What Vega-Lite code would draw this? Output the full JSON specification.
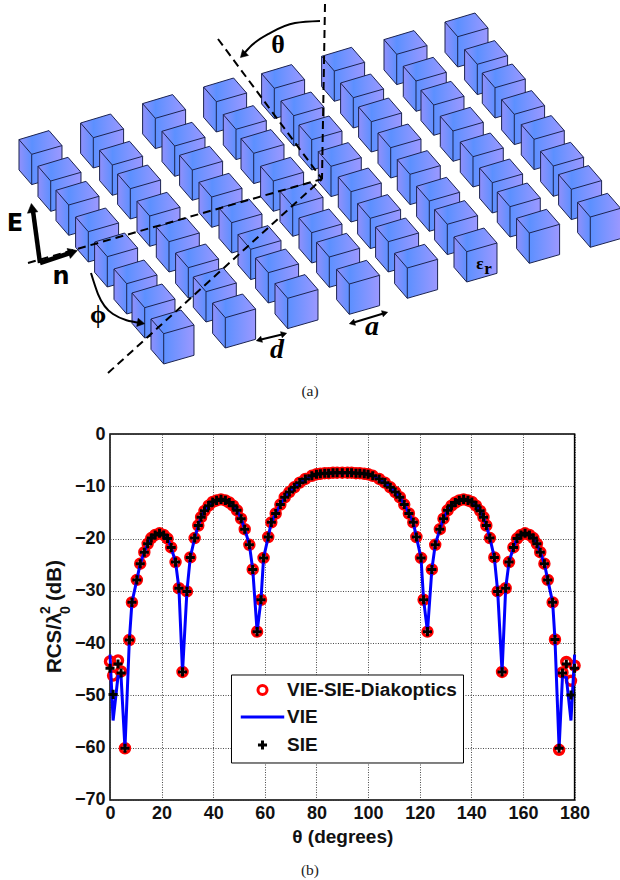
{"$schema":"https://vega.github.io/schema/vega-lite/v6.json","background":"white","padding":0,"spacing":0,"bounds":"flush","config":{"font":"Liberation Sans"},
"datasets":{
"corners":[{"x":0.5,"y":0.5},{"x":619.5,"y":879.5}],
"cubes":[{"x":31.7,"y":153.3},{"x":50.7,"y":180},{"x":68.7,"y":204},{"x":88.3,"y":230.7},{"x":107.3,"y":255.7},{"x":126.7,"y":282.7},{"x":144.7,"y":306.7},{"x":163.7,"y":332.7},
{"x":93.3,"y":136.7},{"x":112.3,"y":164},{"x":130.3,"y":187.7},{"x":149.7,"y":215},{"x":169,"y":240.7},{"x":188.3,"y":266.7},{"x":206,"y":290.7},{"x":225.3,"y":316.7},
{"x":155.3,"y":117.3},{"x":174.7,"y":145},{"x":192.3,"y":169},{"x":211.7,"y":196},{"x":231.7,"y":221.7},{"x":250.7,"y":248.3},{"x":268.3,"y":271.7},{"x":287.7,"y":297.3},
{"x":216.3,"y":100.7},{"x":236,"y":128.3},{"x":253.7,"y":152.3},{"x":273.3,"y":180},{"x":292.7,"y":205},{"x":311.7,"y":231.7},{"x":329.3,"y":256},{"x":349.3,"y":283},
{"x":274.3,"y":87.3},{"x":293.7,"y":114.7},{"x":311.7,"y":138.7},{"x":331,"y":165.3},{"x":351,"y":190.7},{"x":370.3,"y":217.3},{"x":388.3,"y":240.7},{"x":407.3,"y":267},
{"x":334.3,"y":70},{"x":353.3,"y":96.7},{"x":371.3,"y":120.7},{"x":390.7,"y":146.7},{"x":410,"y":173.3},{"x":429.3,"y":200},{"x":447.3,"y":223.3},{"x":466.7,"y":250.7},
{"x":396.7,"y":53.3},{"x":416,"y":80},{"x":433.7,"y":104},{"x":453,"y":130},{"x":473,"y":155.7},{"x":492.3,"y":181.7},{"x":510,"y":205.7},{"x":529.3,"y":232},
{"x":457.7,"y":35.7},{"x":477.3,"y":63.3},{"x":495,"y":86.7},{"x":514.3,"y":113.3},{"x":534,"y":138.3},{"x":553.3,"y":165},{"x":571.3,"y":188.3},{"x":590.3,"y":216}],
"dashes":[{"id":"a","i":0,"x":28,"y":262},{"id":"a","i":1,"x":322,"y":178},{"id":"b","i":0,"x":108,"y":372},{"id":"b","i":1,"x":322,"y":178},{"id":"c","i":0,"x":218,"y":38},{"id":"c","i":1,"x":322,"y":178},{"id":"d","i":0,"x":325,"y":3},{"id":"d","i":1,"x":322,"y":178}],
"arcs":[{"id":"t","i":0,"x":320,"y":20},{"id":"t","i":1,"x":295,"y":22},{"id":"t","i":2,"x":270,"y":32},{"id":"t","i":3,"x":252,"y":44},{"id":"t","i":4,"x":242,"y":55},{"id":"p","i":0,"x":91,"y":272},{"id":"p","i":1,"x":98,"y":293},{"id":"p","i":2,"x":113,"y":313},{"id":"p","i":3,"x":140,"y":322},{"id":"dd","i":0,"x":259,"y":339},{"id":"dd","i":1,"x":284,"y":333},{"id":"aa","i":0,"x":352,"y":322},{"id":"aa","i":1,"x":385,"y":312}],
"thick":[{"id":"E","i":0,"x":40,"y":262},{"id":"E","i":1,"x":33,"y":210},{"id":"n","i":0,"x":40,"y":262},{"id":"n","i":1,"x":70,"y":252}],
"heads":[{"x":32,"y":207,"a":-8,"s":110},{"x":73,"y":251,"a":72,"s":110},{"x":243,"y":54,"a":225,"s":70},{"x":141,"y":322,"a":100,"s":70},{"x":259,"y":339,"a":255,"s":40},{"x":284,"y":333,"a":75,"s":40},{"x":352,"y":322,"a":255,"s":40},{"x":385,"y":312,"a":75,"s":40}],
"thetaLetters":[{"x":278,"y":44,"t":"θ"},{"x":98,"y":314,"t":"ϕ"}],
"italics":[{"x":277,"y":349,"t":"d"},{"x":372,"y":326,"t":"a"}],
"sans":[{"x":15,"y":223,"t":"E"},{"x":61,"y":276,"t":"n"}],
"captions":[{"x":310,"y":390,"t":"(a)"},{"x":310,"y":869,"t":"(b)"}],
"eps":[{"x":480,"y":263,"t":"ε"},{"x":488,"y":268,"t":"r"}],
"ytitle":[{"x":61,"y":672,"t":"RCS/λ"},{"x":61,"y":600,"t":"(dB)"}],
"ytitleSmall":[{"x":70,"y":613,"t":"0"},{"x":50,"y":613,"t":"2"}],
"rcs":[
{"theta":0,"diakoptics":-43.5,"vie":-42.2,"sie":-44.8},{"theta":1.2,"diakoptics":-46.2,"vie":-54.8,"sie":-49.8},{"theta":3.1,"diakoptics":-43.3,"vie":-46.4,"sie":-44},{"theta":4.3,"diakoptics":-45.4,"vie":-46.5,"sie":-45.7},{"theta":5.8,"diakoptics":-60.1,"vie":-60.1,"sie":-60.1},
{"theta":7.5,"diakoptics":-39.4,"vie":-39.4,"sie":-39.4},{"theta":8.5,"diakoptics":-32.2,"vie":-32.2,"sie":-32.2},{"theta":10.4,"diakoptics":-27.9,"vie":-27.9,"sie":-27.9},{"theta":11.7,"diakoptics":-24.8,"vie":-24.8,"sie":-24.8},{"theta":13.3,"diakoptics":-22.6,"vie":-22.6,"sie":-22.6},{"theta":14.6,"diakoptics":-21,"vie":-21,"sie":-21},{"theta":16,"diakoptics":-19.9,"vie":-19.9,"sie":-19.9},{"theta":17.5,"diakoptics":-19.3,"vie":-19.3,"sie":-19.3},{"theta":19.2,"diakoptics":-19,"vie":-19,"sie":-19},{"theta":20.8,"diakoptics":-19.3,"vie":-19.3,"sie":-19.3},{"theta":22.3,"diakoptics":-20,"vie":-20,"sie":-20},{"theta":23.7,"diakoptics":-21.7,"vie":-21.7,"sie":-21.7},{"theta":25.4,"diakoptics":-24.5,"vie":-24.5,"sie":-24.5},{"theta":26.7,"diakoptics":-29.5,"vie":-29.5,"sie":-29.5},{"theta":28.1,"diakoptics":-45.5,"vie":-45.5,"sie":-45.5},{"theta":29.8,"diakoptics":-30.1,"vie":-30.1,"sie":-30.1},{"theta":31.1,"diakoptics":-23.6,"vie":-23.6,"sie":-23.6},{"theta":32.8,"diakoptics":-19.9,"vie":-19.9,"sie":-19.9},{"theta":34.2,"diakoptics":-17.5,"vie":-17.5,"sie":-17.5},{"theta":35.3,"diakoptics":-15.9,"vie":-15.9,"sie":-15.9},{"theta":36.6,"diakoptics":-14.7,"vie":-14.7,"sie":-14.7},{"theta":38.2,"diakoptics":-13.7,"vie":-13.7,"sie":-13.7},{"theta":39.8,"diakoptics":-13,"vie":-13,"sie":-13},{"theta":41.3,"diakoptics":-12.7,"vie":-12.7,"sie":-12.7},{"theta":43,"diakoptics":-12.5,"vie":-12.5,"sie":-12.5},{"theta":44.7,"diakoptics":-12.7,"vie":-12.7,"sie":-12.7},{"theta":46.2,"diakoptics":-13.1,"vie":-13.1,"sie":-13.1},{"theta":47.7,"diakoptics":-13.7,"vie":-13.7,"sie":-13.7},{"theta":49.2,"diakoptics":-14.6,"vie":-14.6,"sie":-14.6},{"theta":50.8,"diakoptics":-16.2,"vie":-16.2,"sie":-16.2},{"theta":52.2,"diakoptics":-18.2,"vie":-18.2,"sie":-18.2},{"theta":54,"diakoptics":-21.2,"vie":-21.2,"sie":-21.2},{"theta":55.3,"diakoptics":-25.9,"vie":-25.9,"sie":-25.9},{"theta":57,"diakoptics":-37.8,"vie":-37.8,"sie":-37.8},{"theta":58.5,"diakoptics":-31.7,"vie":-31.7,"sie":-31.7},{"theta":59.5,"diakoptics":-23.7,"vie":-23.7,"sie":-23.7},{"theta":61.3,"diakoptics":-19.7,"vie":-19.7,"sie":-19.7},{"theta":62.5,"diakoptics":-16.9,"vie":-16.9,"sie":-16.9},{"theta":64.2,"diakoptics":-15.2,"vie":-15.2,"sie":-15.2},{"theta":66,"diakoptics":-13.5,"vie":-13.5,"sie":-13.5},{"theta":67.7,"diakoptics":-12.1,"vie":-12.1,"sie":-12.1},{"theta":69.5,"diakoptics":-11.1,"vie":-11.1,"sie":-11.1},{"theta":71.4,"diakoptics":-10.2,"vie":-10.2,"sie":-10.2},{"theta":73.5,"diakoptics":-9.3,"vie":-9.3,"sie":-9.3},{"theta":75.7,"diakoptics":-8.6,"vie":-8.6,"sie":-8.6},{"theta":78.2,"diakoptics":-8,"vie":-8,"sie":-8},{"theta":80,"diakoptics":-7.7,"vie":-7.7,"sie":-7.7},{"theta":81.5,"diakoptics":-7.6,"vie":-7.6,"sie":-7.6},{"theta":83.2,"diakoptics":-7.5,"vie":-7.5,"sie":-7.5},{"theta":84.7,"diakoptics":-7.5,"vie":-7.5,"sie":-7.5},{"theta":86.4,"diakoptics":-7.4,"vie":-7.4,"sie":-7.4},{"theta":88,"diakoptics":-7.4,"vie":-7.4,"sie":-7.4},{"theta":90,"diakoptics":-7.4,"vie":-7.4,"sie":-7.4},
{"theta":92,"diakoptics":-7.4,"vie":-7.4,"sie":-7.4},{"theta":93.6,"diakoptics":-7.4,"vie":-7.4,"sie":-7.4},{"theta":95.3,"diakoptics":-7.5,"vie":-7.5,"sie":-7.5},{"theta":96.8,"diakoptics":-7.5,"vie":-7.5,"sie":-7.5},{"theta":98.5,"diakoptics":-7.6,"vie":-7.6,"sie":-7.6},{"theta":100,"diakoptics":-7.7,"vie":-7.7,"sie":-7.7},{"theta":101.8,"diakoptics":-8,"vie":-8,"sie":-8},{"theta":104.3,"diakoptics":-8.6,"vie":-8.6,"sie":-8.6},{"theta":106.5,"diakoptics":-9.3,"vie":-9.3,"sie":-9.3},{"theta":108.6,"diakoptics":-10.2,"vie":-10.2,"sie":-10.2},{"theta":110.5,"diakoptics":-11.1,"vie":-11.1,"sie":-11.1},{"theta":112.3,"diakoptics":-12.1,"vie":-12.1,"sie":-12.1},{"theta":114,"diakoptics":-13.5,"vie":-13.5,"sie":-13.5},{"theta":115.8,"diakoptics":-15.2,"vie":-15.2,"sie":-15.2},{"theta":117.5,"diakoptics":-16.9,"vie":-16.9,"sie":-16.9},{"theta":118.7,"diakoptics":-19.7,"vie":-19.7,"sie":-19.7},{"theta":120.5,"diakoptics":-23.7,"vie":-23.7,"sie":-23.7},{"theta":121.5,"diakoptics":-31.7,"vie":-31.7,"sie":-31.7},{"theta":123,"diakoptics":-37.8,"vie":-37.8,"sie":-37.8},{"theta":124.7,"diakoptics":-25.9,"vie":-25.9,"sie":-25.9},{"theta":126,"diakoptics":-21.2,"vie":-21.2,"sie":-21.2},{"theta":127.8,"diakoptics":-18.2,"vie":-18.2,"sie":-18.2},{"theta":129.2,"diakoptics":-16.2,"vie":-16.2,"sie":-16.2},{"theta":130.8,"diakoptics":-14.6,"vie":-14.6,"sie":-14.6},{"theta":132.3,"diakoptics":-13.7,"vie":-13.7,"sie":-13.7},{"theta":133.8,"diakoptics":-13.1,"vie":-13.1,"sie":-13.1},{"theta":135.3,"diakoptics":-12.7,"vie":-12.7,"sie":-12.7},{"theta":137,"diakoptics":-12.5,"vie":-12.5,"sie":-12.5},{"theta":138.7,"diakoptics":-12.7,"vie":-12.7,"sie":-12.7},{"theta":140.2,"diakoptics":-13,"vie":-13,"sie":-13},{"theta":141.8,"diakoptics":-13.7,"vie":-13.7,"sie":-13.7},{"theta":143.4,"diakoptics":-14.7,"vie":-14.7,"sie":-14.7},{"theta":144.7,"diakoptics":-15.9,"vie":-15.9,"sie":-15.9},{"theta":145.8,"diakoptics":-17.5,"vie":-17.5,"sie":-17.5},{"theta":147.2,"diakoptics":-19.9,"vie":-19.9,"sie":-19.9},{"theta":148.9,"diakoptics":-23.6,"vie":-23.6,"sie":-23.6},{"theta":150.2,"diakoptics":-30.1,"vie":-30.1,"sie":-30.1},{"theta":151.9,"diakoptics":-45.5,"vie":-45.5,"sie":-45.5},{"theta":153.3,"diakoptics":-29.5,"vie":-29.5,"sie":-29.5},{"theta":154.6,"diakoptics":-24.5,"vie":-24.5,"sie":-24.5},{"theta":156.3,"diakoptics":-21.7,"vie":-21.7,"sie":-21.7},{"theta":157.7,"diakoptics":-20,"vie":-20,"sie":-20},{"theta":159.2,"diakoptics":-19.3,"vie":-19.3,"sie":-19.3},{"theta":160.8,"diakoptics":-19,"vie":-19,"sie":-19},{"theta":162.5,"diakoptics":-19.3,"vie":-19.3,"sie":-19.3},{"theta":164,"diakoptics":-19.9,"vie":-19.9,"sie":-19.9},{"theta":165.4,"diakoptics":-21,"vie":-21,"sie":-21},{"theta":166.7,"diakoptics":-22.6,"vie":-22.6,"sie":-22.6},{"theta":168.3,"diakoptics":-24.8,"vie":-24.8,"sie":-24.8},{"theta":169.6,"diakoptics":-27.9,"vie":-27.9,"sie":-27.9},{"theta":171.5,"diakoptics":-32.2,"vie":-32.2,"sie":-32.2},{"theta":172.4,"diakoptics":-39.3,"vie":-39.3,"sie":-39.3},{"theta":174,"diakoptics":-60.4,"vie":-60.1,"sie":-60.1},{"theta":175.3,"diakoptics":-45.6,"vie":-46.4,"sie":-45.7},{"theta":176.8,"diakoptics":-43.6,"vie":-46.6,"sie":-44},{"theta":178.6,"diakoptics":-47.2,"vie":-54.8,"sie":-49.9},{"theta":180,"diakoptics":-44.3,"vie":-42.2,"sie":-44.8}]
},
"vconcat":[
{"width":464.6,"height":432.5,"view":{"stroke":null},
"encoding":{"x":{"field":"x","type":"quantitative","axis":null,"scale":{"domain":[110,574.6],"nice":false,"zero":false}},"y":{"field":"y","type":"quantitative","axis":null,"scale":{"domain":[432.5,0],"nice":false,"zero":false}}},
"layer":[
{"data":{"name":"corners"},"mark":{"type":"point","size":1,"opacity":0,"fill":"white","stroke":null}},
{"data":{"name":"cubes"},"mark":{"type":"point","clip":false,"opacity":1,"size":4,"shape":"M-12.7 -14.7L17.3 -23.7L30.3 -8.7L30.3 21.6L0 30.3L-12.7 15.6ZM0 0L-12.7 -14.7M0 0L30.3 -8.7M0 0L0 30.3","stroke":"#1b2350","strokeWidth":1,"fill":{"gradient":"linear","x1":0,"y1":0,"x2":1,"y2":0,"stops":[{"offset":0,"color":"#9090fb"},{"offset":0.3,"color":"#5c90ff"},{"offset":1,"color":"#9c98ff"}]}}},
{"data":{"name":"dashes"},"mark":{"type":"line","stroke":"black","strokeWidth":2,"strokeDash":[8,5]},"encoding":{"detail":{"field":"id"},"order":{"field":"i"}}},
{"data":{"name":"arcs"},"mark":{"type":"line","stroke":"black","strokeWidth":2,"interpolate":"monotone"},"encoding":{"detail":{"field":"id"},"order":{"field":"i"}}},
{"data":{"name":"thick"},"mark":{"type":"line","stroke":"black","strokeWidth":4.5},"encoding":{"detail":{"field":"id"},"order":{"field":"i"}}},
{"data":{"name":"heads"},"mark":{"type":"point","shape":"triangle-up","filled":true,"fill":"black","stroke":"black","strokeWidth":0.5,"opacity":1},"encoding":{"angle":{"field":"a","type":"quantitative","scale":null},"size":{"field":"s","type":"quantitative","scale":null}}},
{"data":{"name":"sans"},"mark":{"type":"text","font":"DejaVu Sans","fontWeight":"bold","fontSize":24,"align":"center","baseline":"middle","fill":"black"},"encoding":{"text":{"field":"t"}}},
{"data":{"name":"thetaLetters"},"mark":{"type":"text","font":"Liberation Serif","fontWeight":"bold","fontSize":26,"align":"center","baseline":"middle","fill":"black"},"encoding":{"text":{"field":"t"}}},
{"data":{"name":"italics"},"mark":{"type":"text","font":"Liberation Serif","fontWeight":"bold","fontStyle":"italic","fontSize":28,"align":"center","baseline":"middle","fill":"black"},"encoding":{"text":{"field":"t"}}},
{"data":{"name":"eps"},"mark":{"type":"text","font":"Liberation Serif","fontWeight":"bold","fontSize":17,"align":"center","baseline":"middle","fill":"black"},"encoding":{"text":{"field":"t"}}},
{"data":{"name":"captions"},"mark":{"type":"text","font":"Liberation Serif","fontSize":15.5,"align":"center","baseline":"middle","fill":"#222222"},"encoding":{"text":{"field":"t"}}},
{"data":{"name":"ytitle"},"mark":{"type":"text","font":"Liberation Sans","fontWeight":"bold","fontSize":20.5,"align":"left","baseline":"alphabetic","angle":270,"fill":"#111111"},"encoding":{"text":{"field":"t"}}},
{"data":{"name":"ytitleSmall"},"mark":{"type":"text","font":"Liberation Sans","fontWeight":"bold","fontSize":14,"align":"left","baseline":"alphabetic","angle":270,"fill":"#111111"},"encoding":{"text":{"field":"t"}}}
]},
{"width":464.6,"height":366,"view":{"stroke":"black","strokeWidth":1.5},"data":{"name":"rcs"},
"encoding":{"x":{"field":"theta","type":"quantitative","scale":{"domain":[0,180],"nice":false},"axis":{"values":[0,20,40,60,80,100,120,140,160,180],"title":"θ (degrees)","titleFont":"Liberation Sans","titleFontSize":19,"titleFontWeight":"bold","titleColor":"#111111","titlePadding":5,"labelFontSize":18,"labelFontWeight":"bold","labelColor":"#111111","labelPadding":5,"ticks":false,"domain":false,"grid":true,"gridColor":"#333333","gridDash":[1,1.5],"gridOpacity":0.9,"labelFlush":false}}},
"layer":[
{"mark":{"type":"point","clip":false,"opacity":1,"strokeWidth":3.4,"size":82,"fill":"transparent"},
"encoding":{"y":{"field":"diakoptics","type":"quantitative","scale":{"domain":[-70,0],"nice":false},"axis":{"values":[0,-10,-20,-30,-40,-50,-60,-70],"title":null,"labelFontSize":18,"labelFontWeight":"bold","labelColor":"#111111","labelPadding":5,"ticks":false,"domain":false,"grid":true,"gridColor":"#333333","gridDash":[1,1.5],"gridOpacity":0.9}},
"stroke":{"datum":"VIE-SIE-Diakoptics","type":"nominal","scale":{"domain":["VIE-SIE-Diakoptics","VIE","SIE"],"range":["#ff0000","#0000ff","#000000"]},"legend":{"orient":"none","legendX":121,"legendY":673.5,"title":null,"fillColor":"white","strokeColor":"black","padding":6,"labelFontSize":19,"labelFontWeight":"bold","labelColor":"#111111","labelLimit":400,"symbolSize":82,"symbolStrokeWidth":3,"symbolOffset":16,"labelOffset":15,"rowPadding":6,"symbolFillColor":"transparent","offset":0}},
"shape":{"datum":"VIE-SIE-Diakoptics","type":"nominal","scale":{"domain":["VIE-SIE-Diakoptics","VIE","SIE"],"range":["circle","M-4.8 0L4.8 0","M-1 0L1 0M0 -1L0 1"]}}}},
{"mark":{"type":"line","strokeWidth":3,"clip":false},"encoding":{"y":{"field":"vie","type":"quantitative"},"stroke":{"datum":"VIE","type":"nominal"}}},
{"mark":{"type":"point","clip":false,"opacity":1,"strokeWidth":3,"size":82,"fill":"transparent"},"encoding":{"y":{"field":"sie","type":"quantitative"},"stroke":{"datum":"SIE","type":"nominal"},"shape":{"datum":"SIE","type":"nominal"}}}
]}
]}
